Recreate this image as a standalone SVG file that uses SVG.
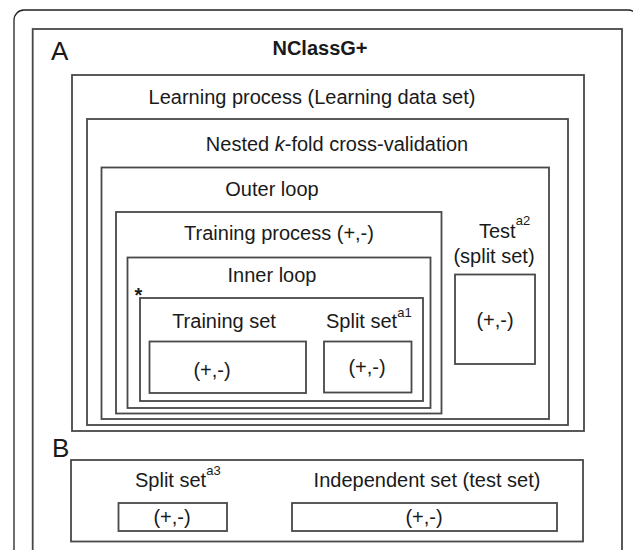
<svg xmlns="http://www.w3.org/2000/svg" width="633" height="550" viewBox="0 0 633 550">
<style>
.b{fill:none;stroke:#484848;stroke-width:1.8}
.t{font-family:"Liberation Sans",Arial,sans-serif;font-size:20px;fill:#1a1a1a}
.m{text-anchor:middle}
.s{font-size:13px}
.L{font-size:26px}
</style>
<rect x="0" y="0" width="633" height="550" fill="#ffffff"/>
<rect x="14" y="10" width="624" height="560" rx="10" fill="none" stroke="#222" stroke-width="1.3"/>
<g id="panelA">
<rect class="b" x="32.7" y="29" width="589.3" height="541"/>
<text class="t L" x="51" y="60">A</text>
<text class="t m" x="320" y="55" font-weight="bold" font-size="18">NClassG+</text>
</g>
<g id="learning">
<rect class="b" x="72" y="75" width="512" height="356"/>
<text class="t m" x="312" y="104">Learning process (Learning data set)</text>
</g>
<g id="nested">
<rect class="b" x="87" y="119" width="481" height="306"/>
<text class="t m" x="337" y="151">Nested <tspan font-style="italic">k</tspan>-fold cross-validation</text>
</g>
<g id="outer">
<rect class="b" x="101.5" y="167.5" width="447.5" height="251.5"/>
<text class="t m" x="272" y="196">Outer loop</text>
</g>
<g id="trainproc">
<rect class="b" x="116" y="212" width="325.5" height="201.5"/>
<text class="t m" x="279" y="240">Training process (+,-)</text>
</g>
<g id="inner">
<rect class="b" x="127.5" y="257.5" width="303" height="150.5"/>
<text class="t m" x="272" y="282">Inner loop</text>
<text class="t" x="134.5" y="302" font-weight="bold" font-size="25">*</text>
</g>
<g id="innerset">
<rect class="b" x="140" y="298" width="283" height="103"/>
</g>
<g id="trainset">
<text class="t m" x="224" y="328">Training set</text>
<rect class="b" x="149.5" y="341.5" width="156.5" height="51.5"/>
<text class="t m" x="212" y="377">(+,-)</text>
</g>
<g id="splitset1">
<text class="t" x="326" y="328">Split set<tspan class="s" dy="-11">a1</tspan></text>
<rect class="b" x="324" y="341.5" width="87.5" height="51"/>
<text class="t m" x="367" y="374">(+,-)</text>
</g>
<g id="test">
<text class="t" x="479" y="238">Test<tspan class="s" dy="-13">a2</tspan></text>
<text class="t m" x="494" y="263">(split set)</text>
<rect class="b" x="455" y="274.5" width="80" height="89.5"/>
<text class="t m" x="495" y="327">(+,-)</text>
</g>
<g id="panelB">
<text class="t L" x="52" y="457">B</text>
<rect class="b" x="71" y="460" width="512" height="81.5"/>
</g>
<g id="splitset3">
<text class="t" x="135" y="487">Split set<tspan class="s" dy="-12">a3</tspan></text>
<rect class="b" x="118.5" y="503" width="108.5" height="28"/>
<text class="t m" x="172" y="524">(+,-)</text>
</g>
<g id="independent">
<text class="t m" x="427" y="487">Independent set (test set)</text>
<rect class="b" x="292" y="503" width="265" height="28"/>
<text class="t m" x="424" y="524">(+,-)</text>
</g>
<g id="connectors"></g>
</svg>
